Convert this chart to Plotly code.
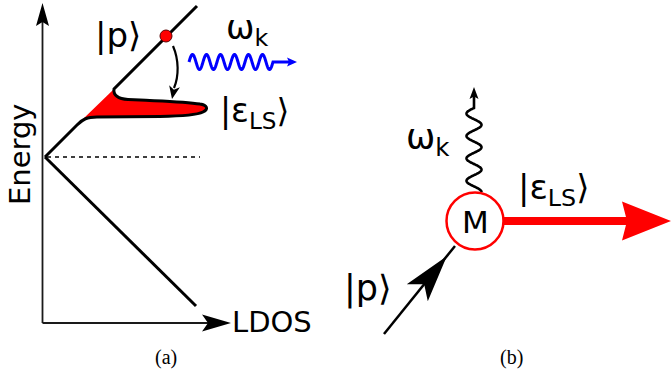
import numpy as np
import plotly.graph_objects as go

W, H = 671, 379

# ---------------- panel (a): LDOS sketch (pixel coordinates, y downward) ----------------
axis_corner = [42.5, 323]
axis_y_tip = [42.5, 3]
axis_x_tip = [231, 323]
vertex = [45, 157]
upper_end = [197, 6]
lower_end = [196, 306]
dash_y = 157
dash_x = [47, 200]
# lobe (Lamb-shifted state) outline, cubic bezier control points
lobe_bottom = [[77, 125], [83, 119], [87, 117], [97, 117], [160, 116.5],
               [185, 116], [197, 115], [203, 112]]
lobe_tip = [[209, 109], [207, 105], [200, 104]]
lobe_top = [[185, 101.5], [160, 101], [140, 100], [128, 99.5],
            [118, 99], [113, 95], [114, 89]]
fill_corner = [82, 120]
red_dot = [166, 36]
red_dot_r = 6
curved_arrow = [[173, 46], [179, 60], [179, 76], [174, 88]]
curved_tip = [172, 99]
blue_wave_x = [189, 273]
blue_wave_y = 62
blue_wave_amp = 7.5
blue_wave_periods = 6
blue_tip = [297, 62]

# ---------------- panel (b): vertex diagram ----------------
m_center = [475, 221]
m_radius = 28.5
red_arrow_tip = [671, 221]
wave_b_y = [192, 108]
wave_b_x = 474
wave_b_amp = 7.5
wave_b_periods = 3.75
wave_b_tip = [474, 87]
p_line = [[384, 334], [455, 246]]

# ---------------- labels ----------------
labels = [
    # text, x, y(middle), size
    ("|p⟩", 93, 35, 34),
    ("ω<sub>k</sub>", 224, 29, 34),
    ("|ε<sub>LS</sub>⟩", 218, 112, 33),
    ("LDOS", 230, 322, 29),
    ("ω<sub>k</sub>", 404, 139, 35),
    ("|ε<sub>LS</sub>⟩", 516, 189, 34),
    ("|p⟩", 342, 288, 35),
]
captions = [("(a)", 166, 357), ("(b)", 511, 357)]

RED = "#ff0000"
BLACK = "#000000"


def P(pt):
    return f"{pt[0]},{pt[1]}"


def arrowhead(tip, d, L, hw, notch):
    d = np.array(d, float)
    d = d / np.linalg.norm(d)
    n = np.array([-d[1], d[0]])
    t = np.array(tip, float)
    b1 = t - L * d + hw * n
    b2 = t - L * d - hw * n
    nc = t - (L - notch) * d
    return f"M {P(t)} L {P(b1)} L {P(nc)} L {P(b2)} Z"


def poly_path(xs, ys):
    return "M " + " L ".join(f"{x:.2f},{y:.2f}" for x, y in zip(xs, ys))


shapes = []


def add_path(path, color, width, fill=None):
    shapes.append(dict(type="path", path=path, xref="x", yref="y",
                       line=dict(color=color, width=width),
                       fillcolor=fill if fill else "rgba(0,0,0,0)",
                       layer="above"))


# axes
add_path(f"M {P(axis_corner)} L {axis_y_tip[0]},{axis_y_tip[1] + 18}", "#1a1a1a", 1.8)
add_path(f"M {P(axis_corner)} L {axis_x_tip[0] - 22},{axis_x_tip[1]}", "#1a1a1a", 1.8)
add_path(arrowhead(axis_y_tip, [0, -1], 23, 6.5, 4), BLACK, 0, BLACK)
add_path(arrowhead(axis_x_tip, [1, 0], 29, 8.5, 6), BLACK, 0, BLACK)

# dashed line
shapes.append(dict(type="line", x0=dash_x[0], x1=dash_x[1], y0=dash_y, y1=dash_y,
                   xref="x", yref="y", line=dict(color=BLACK, width=1.5, dash="4px,4px")))

# lower diagonal
add_path(f"M {P(vertex)} L {P(lower_end)}", BLACK, 3)

# red fill of lobe
lb, lt, tp = lobe_bottom, lobe_top, lobe_tip
fill_path = (f"M {P(fill_corner)} L {P(lt[6])} "
             f"C {P(lt[5])} {P(lt[4])} {P(lt[3])} L {P(lt[2])} "
             f"C {P(lt[1])} {P(lt[0])} {P(tp[2])} "
             f"C {P(tp[1])} {P(tp[0])} {P(lb[7])} "
             f"C {P(lb[6])} {P(lb[5])} {P(lb[4])} L {P(lb[3])} "
             f"C {P(lb[2])} {P(lb[1])} {P(fill_corner)} Z")
add_path(fill_path, RED, 0, RED)

# black outline: vertex -> lobe -> upper diagonal
outline = (f"M {P(vertex)} L {P(lb[0])} C {P(lb[1])} {P(lb[2])} {P(lb[3])} "
           f"L {P(lb[4])} C {P(lb[5])} {P(lb[6])} {P(lb[7])} "
           f"C {P(tp[0])} {P(tp[1])} {P(tp[2])} "
           f"C {P(lt[0])} {P(lt[1])} {P(lt[2])} L {P(lt[3])} "
           f"C {P(lt[4])} {P(lt[5])} {P(lt[6])} L {P(upper_end)}")
add_path(outline, BLACK, 3)

# curved arrow from |p> to lobe
ca = curved_arrow
add_path(f"M {P(ca[0])} C {P(ca[1])} {P(ca[2])} {P(ca[3])}", BLACK, 2.2)
add_path(arrowhead(curved_tip, [-0.2, 1], 13, 5.5, 3.5), BLACK, 0, BLACK)

# red dot
shapes.append(dict(type="circle", xref="x", yref="y",
                   x0=red_dot[0] - red_dot_r, x1=red_dot[0] + red_dot_r,
                   y0=red_dot[1] - red_dot_r, y1=red_dot[1] + red_dot_r,
                   fillcolor=RED, line=dict(color="#5a0000", width=1)))

# blue wavy photon
bx = np.linspace(blue_wave_x[0], blue_wave_x[1], 400)
ph = 2 * np.pi * blue_wave_periods * (bx - bx[0]) / (bx[-1] - bx[0])
by = blue_wave_y - blue_wave_amp * np.sin(ph)
bpath = poly_path(bx, by) + f" L {blue_tip[0] - 8},{blue_wave_y}"
add_path(bpath, "#0000ff", 3)
add_path(arrowhead(blue_tip, [1, 0], 10, 4.5, 2), "#0000ff", 0, "#0000ff")

# ---------------- panel (b) ----------------
# |p> incoming line with arrow
add_path(f"M {P(p_line[0])} L {P(p_line[1])}", BLACK, 2.5)
pd = np.array(p_line[1], float) - np.array(p_line[0], float)
pd /= np.linalg.norm(pd)
p_tip = np.array(p_line[0], float) + 100 * pd
add_path(arrowhead(p_tip, pd, 47, 13.5, 11), BLACK, 0, BLACK)

# black wavy photon
wy = np.linspace(wave_b_y[0], wave_b_y[1], 400)
wph = 2 * np.pi * wave_b_periods * (wy[0] - wy) / (wy[0] - wy[-1]) + np.pi / 2
wx = wave_b_x + wave_b_amp * np.sin(wph)
wpath = poly_path(wx, wy) + f" L {wave_b_x},{wave_b_tip[1] + 8}"
add_path(wpath, BLACK, 2.6)
add_path(arrowhead(wave_b_tip, [0, -1], 12, 4.5, 2.5), BLACK, 0, BLACK)

# red outgoing arrow
add_path(f"M {m_center[0] + m_radius},{m_center[1]} L {red_arrow_tip[0] - 40},{red_arrow_tip[1]}", RED, 8)
add_path(arrowhead(red_arrow_tip, [1, 0], 49, 19.5, 5), RED, 0, RED)

# M circle
shapes.append(dict(type="circle", xref="x", yref="y",
                   x0=m_center[0] - m_radius, x1=m_center[0] + m_radius,
                   y0=m_center[1] - m_radius, y1=m_center[1] + m_radius,
                   fillcolor="white", line=dict(color=RED, width=2.5)))

annotations = []
for text, x, y, size in labels:
    annotations.append(dict(text=text, x=x, y=y, xref="x", yref="y", showarrow=False,
                            xanchor="left", yanchor="middle",
                            font=dict(family="DejaVu Sans", size=size, color=BLACK)))
annotations.append(dict(text="M", x=m_center[0], y=m_center[1] + 1, xref="x", yref="y",
                        showarrow=False, xanchor="center", yanchor="middle",
                        font=dict(family="DejaVu Sans", size=31, color=BLACK)))
annotations.append(dict(text="Energy", x=20, y=154, xref="x", yref="y", showarrow=False,
                        textangle=-90, xanchor="center", yanchor="middle",
                        font=dict(family="DejaVu Sans", size=29, color=BLACK)))
for text, x, y in captions:
    annotations.append(dict(text=text, x=x, y=y, xref="x", yref="y", showarrow=False,
                            xanchor="center", yanchor="middle",
                            font=dict(family="Liberation Serif", size=20, color=BLACK)))

fig = go.Figure()
fig.add_trace(go.Scatter(x=[0, W], y=[0, H], mode="markers",
                         marker=dict(opacity=0), hoverinfo="skip", showlegend=False))
fig.update_layout(
    width=W, height=H, margin=dict(l=0, r=0, t=0, b=0),
    paper_bgcolor="white", plot_bgcolor="white",
    xaxis=dict(range=[0, W], visible=False, fixedrange=True),
    yaxis=dict(range=[H, 0], visible=False, fixedrange=True),
    shapes=shapes, annotations=annotations, showlegend=False,
    hovermode=False,
)
fig.write_html("out.html")
